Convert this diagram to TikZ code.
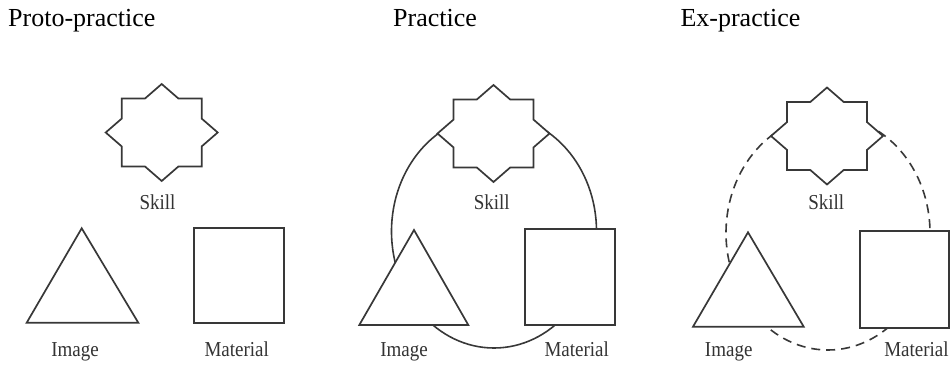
\documentclass[tikz,border=0pt]{standalone}
\usepackage{fontspec}
\setmainfont{Liberation Serif}
\begin{document}
\begin{tikzpicture}[x=1pt,y=-1pt,
  shp/.style={draw=black!78,line width=1.7pt,fill=white,line join=miter},
  ring/.style={draw=black!78,line width=1.6pt},
  dashring/.style={ring,dash pattern=on 9pt off 6pt},
  ttl/.style={anchor=base west,font=\fontsize{26}{30}\selectfont,inner sep=0pt},
  lbl/.style={anchor=base,font=\fontsize{19}{22}\selectfont,text=black!80,inner sep=0pt,yscale=1.12},
  pics/octastar/.style={code={
    \draw[shp] (0,-48.5) -- (16.7,-34) -- (40,-34) -- (40,-13.9) -- (56,0) -- (40,13.9)
      -- (40,34) -- (16.7,34) -- (0,48.5) -- (-16.7,34) -- (-40,34) -- (-40,13.9)
      -- (-56,0) -- (-40,-13.9) -- (-40,-34) -- (-16.7,-34) -- cycle;
  }}]
\useasboundingbox (0,0) rectangle (952,364);

% titles
\node[ttl] (t1) at (8,26.7) {Proto-practice};
\node[ttl] (t2) at (393,26.7) {Practice};
\node[ttl] (t3) at (680.3,26.7) {Ex-practice};

% connecting rings (drawn behind the shapes)
\draw[ring] (494,231.4) ellipse [x radius=102.5, y radius=116.6];
\draw[dashring] (828,233) ellipse [x radius=102, y radius=117];

% panel 1
\pic at (161.7,132.5) {octastar};
\draw[shp] (81.7,228.3) -- (26.7,322.7) -- (138.3,322.7) -- cycle;
\draw[shp] (194.3,228.3) rectangle (284,322.7);
\node[lbl] (s1) at (157.5,209) {Skill};
\node[lbl] (i1) at (75,356.5) {Image};
\node[lbl] (m1) at (236.7,356.5) {Material};

% panel 2
\pic at (493.5,133.5) {octastar};
\draw[shp] (414,230) -- (359.3,325) -- (468.3,325) -- cycle;
\draw[shp] (525,229.3) rectangle (615,325);
\node[lbl] (s2) at (491.7,209) {Skill};
\node[lbl] (i2) at (404,356.5) {Image};
\node[lbl] (m2) at (576.7,356.5) {Material};

% panel 3
\pic at (827,136) {octastar};
\draw[shp] (748,232.3) -- (693,326.7) -- (803.7,326.7) -- cycle;
\draw[shp] (860.3,231) rectangle (949.3,328.3);
\node[lbl] (s3) at (826.2,209) {Skill};
\node[lbl] (i3) at (728.7,356.5) {Image};
\node[lbl] (m3) at (916.5,356.5) {Material};
\end{tikzpicture}
\end{document}
